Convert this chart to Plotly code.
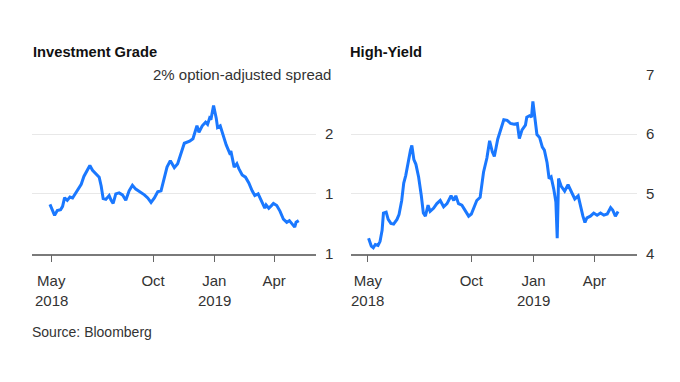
import plotly.graph_objects as go

# ---------------- data ----------------
ig_dates = ["2018-04-29","2018-05-02","2018-05-06","2018-05-10","2018-05-15","2018-05-18","2018-05-21",
            "2018-05-25","2018-05-29","2018-06-02","2018-06-07","2018-06-10","2018-06-15","2018-06-19",
            "2018-06-23","2018-06-28","2018-07-02","2018-07-07","2018-07-12","2018-07-15","2018-07-18",
            "2018-07-22","2018-07-27","2018-07-30","2018-08-02","2018-08-06","2018-08-11","2018-08-16",
            "2018-08-21","2018-08-26","2018-08-31","2018-09-05","2018-09-12","2018-09-18","2018-09-23",
            "2018-09-28","2018-10-03","2018-10-08","2018-10-13","2018-10-17","2018-10-22","2018-10-27",
            "2018-11-02","2018-11-07","2018-11-12","2018-11-17","2018-11-25","2018-11-30","2018-12-06",
            "2018-12-09","2018-12-14","2018-12-19","2018-12-22","2018-12-25","2018-12-27","2018-12-31",
            "2019-01-04","2019-01-06","2019-01-10","2019-01-14","2019-01-19","2019-01-24","2019-01-26",
            "2019-01-31","2019-02-04","2019-02-07","2019-02-12","2019-02-17","2019-02-22","2019-02-27",
            "2019-03-03","2019-03-08","2019-03-13","2019-03-18","2019-03-20","2019-03-24","2019-03-28",
            "2019-03-31","2019-04-05","2019-04-10","2019-04-15","2019-04-20","2019-04-24","2019-04-28",
            "2019-05-02","2019-05-04","2019-05-08"]
ig_values = [1.206,1.184,1.160,1.180,1.184,1.198,1.234,1.223,1.237,1.233,1.254,1.270,1.290,1.323,
             1.342,1.369,1.349,1.336,1.320,1.283,1.230,1.227,1.243,1.223,1.210,1.250,1.254,1.246,
             1.223,1.263,1.286,1.270,1.259,1.246,1.233,1.214,1.233,1.259,1.263,1.303,1.362,1.389,
             1.360,1.376,1.422,1.462,1.471,1.481,1.535,1.508,1.535,1.550,1.541,1.567,1.561,1.620,
             1.567,1.528,1.535,1.495,1.455,1.422,1.429,1.362,1.376,1.356,1.329,1.320,1.296,1.263,
             1.243,1.250,1.223,1.190,1.204,1.190,1.201,1.210,1.201,1.177,1.144,1.131,1.138,1.124,
             1.111,1.131,1.138]

hy_dates = ["2018-05-02","2018-05-06","2018-05-09","2018-05-12","2018-05-16","2018-05-19","2018-05-22",
            "2018-05-24","2018-05-28","2018-05-31","2018-06-04","2018-06-08","2018-06-13","2018-06-16",
            "2018-06-20","2018-06-23","2018-06-26","2018-06-29","2018-07-03","2018-07-05","2018-07-08",
            "2018-07-11","2018-07-15","2018-07-19","2018-07-22","2018-07-25","2018-07-29","2018-08-01",
            "2018-08-06","2018-08-11","2018-08-16","2018-08-21","2018-08-26","2018-09-01","2018-09-05",
            "2018-09-08","2018-09-12","2018-09-17","2018-09-22","2018-09-27","2018-10-01","2018-10-04",
            "2018-10-09","2018-10-14","2018-10-19","2018-10-24","2018-10-28","2018-11-01","2018-11-04",
            "2018-11-09","2018-11-13","2018-11-18","2018-11-23","2018-11-28","2018-12-03","2018-12-08",
            "2018-12-11","2018-12-15","2018-12-20","2018-12-22","2018-12-26","2018-12-29","2018-12-31",
            "2019-01-03","2019-01-06","2019-01-10","2019-01-14","2019-01-17","2019-01-21","2019-01-24",
            "2019-01-27","2019-01-31","2019-02-03","2019-02-05","2019-02-07","2019-02-11","2019-02-16",
            "2019-02-21","2019-02-26","2019-03-03","2019-03-08","2019-03-11","2019-03-15","2019-03-18",
            "2019-03-21","2019-03-26","2019-03-31","2019-04-05","2019-04-10","2019-04-15","2019-04-20",
            "2019-04-25","2019-04-28","2019-05-02","2019-05-06"]
hy_values = [4.257,4.126,4.099,4.153,4.137,4.205,4.390,4.679,4.695,4.573,4.505,4.494,4.573,4.652,
             4.889,5.180,5.311,5.521,5.732,5.811,5.574,5.495,5.284,4.968,4.679,4.627,4.810,4.706,
             4.758,4.837,4.889,4.785,4.837,4.968,4.889,4.968,4.837,4.810,4.706,4.627,4.663,4.758,
             4.889,4.943,5.363,5.600,5.890,5.705,5.626,5.915,6.073,6.242,6.231,6.179,6.168,6.179,
             5.926,6.073,6.152,6.285,6.310,6.285,6.547,6.285,5.994,5.942,5.784,5.732,5.521,5.258,
             5.284,5.074,4.864,4.257,5.258,5.126,5.047,5.153,5.022,4.916,4.968,4.810,4.627,4.521,
             4.600,4.627,4.679,4.643,4.679,4.643,4.663,4.769,4.731,4.627,4.706]

x_tickvals = ["2018-05-01", "2018-10-01", "2019-01-01", "2019-04-01"]
x_ticktext = ["May", "Oct", "Jan", "Apr"]
year_labels = ["2018", "2019"]
year_dates = ["2018-05-01", "2019-01-01"]

ig_tickvals = [1.0, 1.25, 1.5, 1.75]
ig_ticktext = ["1", "1", "2", ""]
hy_tickvals = [4, 5, 6, 7]
hy_ticktext = ["4", "5", "6", "7"]

titles = ["Investment Grade", "High-Yield"]
unit_label = "2% option-adjusted spread"
source = "Source: Bloomberg"

# ---------------- styling ----------------
W, H = 680, 382
FONT = "Liberation Sans, Arial, sans-serif"
BLUE = "#1a78ff"
GRID = "#e8e8e8"
TXT = "#333333"
FS = 15

def px_x(p):
    return p / W

def px_y(p):
    return 1 - p / H

y_dom = [px_y(256), px_y(68.5)]

fig = go.Figure()
fig.add_trace(go.Scatter(x=ig_dates, y=ig_values, mode="lines",
                         line=dict(color=BLUE, width=3), xaxis="x", yaxis="y",
                         showlegend=False, hoverinfo="skip"))
fig.add_trace(go.Scatter(x=hy_dates, y=hy_values, mode="lines",
                         line=dict(color=BLUE, width=3), xaxis="x2", yaxis="y2",
                         showlegend=False, hoverinfo="skip"))

xcommon = dict(type="date", tickmode="array", tickvals=x_tickvals, ticktext=x_ticktext,
               ticks="outside", ticklen=7, tickwidth=1, tickcolor="#666666",
               showline=True, linecolor="#7a7a7a", linewidth=1.6,
               showgrid=False, zeroline=False,
               tickfont=dict(family=FONT, size=FS, color=TXT), ticklabelstandoff=6)
ycommon = dict(side="right", showgrid=True, gridcolor=GRID, gridwidth=1,
               zeroline=False, showline=False, ticks="", tickmode="array",
               tickfont=dict(family=FONT, size=FS, color=TXT), ticklabelstandoff=8,
               domain=y_dom)

fig.update_layout(
    width=W, height=H, margin=dict(l=0, r=0, t=0, b=0),
    paper_bgcolor="white", plot_bgcolor="white",
    xaxis=dict(domain=[px_x(32), px_x(316)], range=["2018-04-02", "2019-06-03"],
               anchor="y", **xcommon),
    yaxis=dict(range=[1.0, 1.75], tickvals=ig_tickvals, ticktext=ig_ticktext,
               anchor="x", **ycommon),
    xaxis2=dict(domain=[px_x(351), px_x(637)], range=["2018-04-06", "2019-06-03"],
                anchor="y2", **xcommon),
    yaxis2=dict(range=[4, 7], tickvals=hy_tickvals, ticktext=hy_ticktext,
                anchor="x2", **ycommon),
)

ann = []
ann.append(dict(text="<b>%s</b>" % titles[0], xref="paper", yref="paper", x=px_x(31), y=px_y(45.5),
                xanchor="left", yanchor="middle", showarrow=False,
                font=dict(family=FONT, size=14.7, color="#111111")))
ann.append(dict(text="<b>%s</b>" % titles[1], xref="paper", yref="paper", x=px_x(348), y=px_y(45.5),
                xanchor="left", yanchor="middle", showarrow=False,
                font=dict(family=FONT, size=14.7, color="#111111")))
ann.append(dict(text=unit_label, xref="paper", yref="y", x=px_x(333), y=1.75,
                xanchor="right", yanchor="middle", showarrow=False, bgcolor="white",
                font=dict(family=FONT, size=FS, color=TXT)))
for d, lab in zip(year_dates, year_labels):
    ann.append(dict(text=lab, xref="x", yref="paper", x=d, y=px_y(305.5),
                    xanchor="center", yanchor="middle", showarrow=False,
                    font=dict(family=FONT, size=FS, color=TXT)))
    ann.append(dict(text=lab, xref="x2", yref="paper", x=d, y=px_y(305.5),
                    xanchor="center", yanchor="middle", showarrow=False,
                    font=dict(family=FONT, size=FS, color=TXT)))
ann.append(dict(text=source, xref="paper", yref="paper", x=px_x(30), y=px_y(338),
                xanchor="left", yanchor="middle", showarrow=False,
                font=dict(family=FONT, size=14, color=TXT)))
fig.update_layout(annotations=ann)

fig.write_html("out.html", config={"displayModeBar": False},
               post_script="document.body.style.margin='0';")
